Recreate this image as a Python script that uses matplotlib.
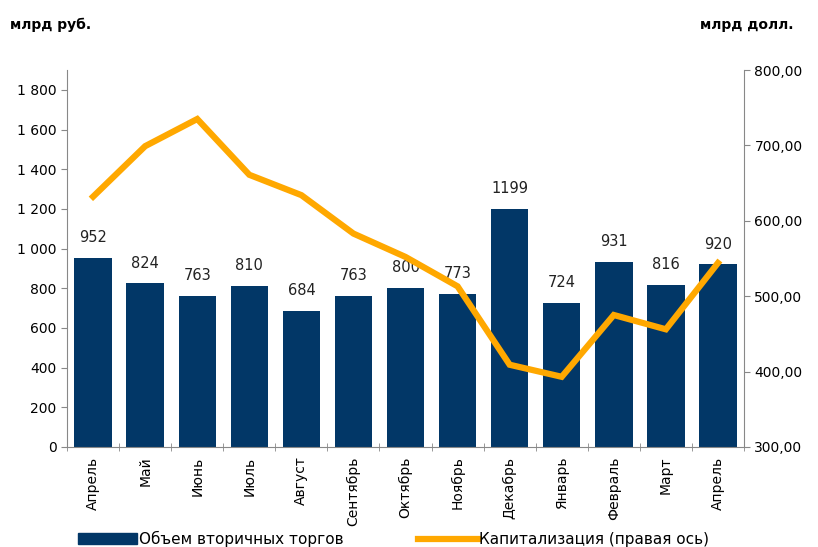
import numpy as np
import matplotlib.pyplot as plt
from matplotlib.lines import Line2D
from matplotlib.patches import Patch

months = ['Апрель', 'Май', 'Июнь', 'Июль', 'Август', 'Сентябрь', 'Октябрь',
          'Ноябрь', 'Декабрь', 'Январь', 'Февраль', 'Март', 'Апрель']
volume = [952, 824, 763, 810, 684, 763, 800, 773, 1199, 724, 931, 816, 920]
cap = [632, 699, 735, 661, 634, 583, 552, 513, 409, 393, 475, 456, 544]

bar_color = '#023767'
line_color = '#FFA800'

plt.rcParams['font.family'] = 'DejaVu Sans'

fig = plt.figure(figsize=(8.18, 5.47), dpi=100)
ax = fig.add_axes([0.082, 0.183, 0.8275, 0.689])
x = np.arange(len(months))
ax.bar(x, volume, width=0.72, color=bar_color, zorder=2)
for xi, v in zip(x, volume):
    ax.text(xi, v + 65, str(v), ha='center', va='bottom', fontsize=10.5, color='#222222')
ax.set_xlim(-0.5, len(months) - 0.5)
ax.set_ylim(0, 1900)
ax.set_yticks(range(0, 2000, 200))
ax.set_yticklabels(['0' if t == 0 else f'{t:,}'.replace(',', ' ') for t in range(0, 2000, 200)],
                   fontsize=10)
ax.set_xticks(x)
ax.set_xticklabels(months, rotation=90, fontsize=10)
ax.set_xticks(np.arange(-0.5, len(months)), minor=True)
ax.tick_params(axis='x', which='major', length=0, pad=7)
ax.tick_params(axis='x', which='minor', length=6, color='#888888', direction='inout')
ax.tick_params(axis='y', length=4, color='#888888')
for s in ['top', 'right']:
    ax.spines[s].set_visible(False)
ax.spines['left'].set_color('#888888')
ax.spines['bottom'].set_color('#888888')

ax2 = ax.twinx()
ax2.plot(x, cap, color=line_color, lw=4.5, solid_joinstyle='miter', zorder=3)
ax2.set_ylim(300, 800)
ax2.set_yticks(range(300, 900, 100))
ax2.set_yticklabels([f'{t},00' for t in range(300, 900, 100)], fontsize=10)
ax2.tick_params(axis='y', length=4, color='#888888')
for s in ['top', 'left', 'bottom']:
    ax2.spines[s].set_visible(False)
ax2.spines['right'].set_color('#888888')

fig.text(0.012, 0.955, 'млрд руб.', fontsize=10, fontweight='bold', ha='left', va='center')
fig.text(0.97, 0.955, 'млрд долл.', fontsize=10, fontweight='bold', ha='right', va='center')

handles = [Patch(color=bar_color), Line2D([0], [0], color=line_color, lw=4.5)]
fig.legend(handles, ['Объем вторичных торгов', 'Капитализация (правая ось)'],
           loc='lower left', bbox_to_anchor=(0.095, 0.0), ncol=2, frameon=False,
           fontsize=11, handlelength=3.9, handleheight=0.7, handletextpad=0.1,
           columnspacing=4.9, borderpad=0, borderaxespad=0)

fig.savefig('out.png', dpi=100)
